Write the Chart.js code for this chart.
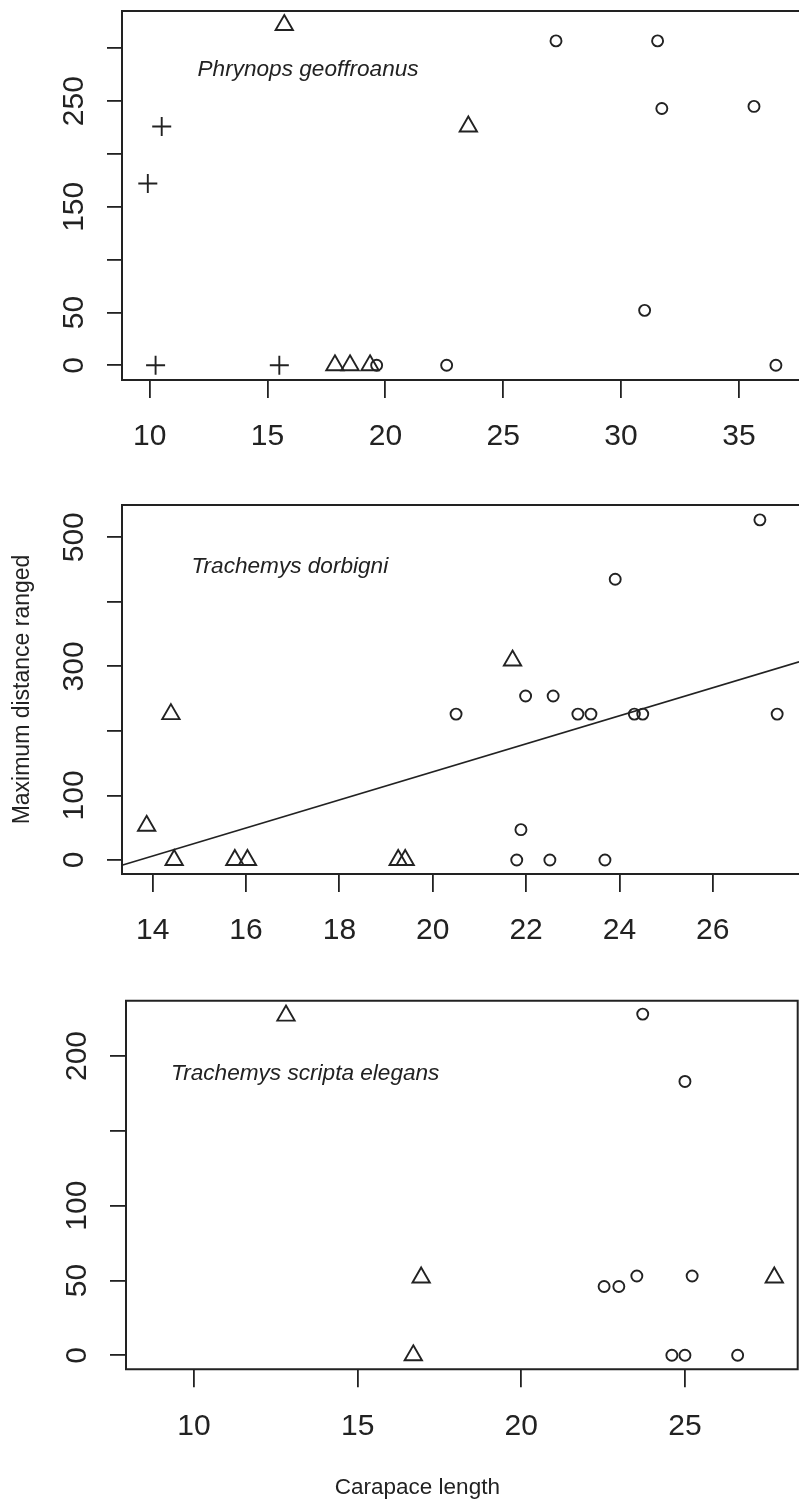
<!DOCTYPE html>
<html><head><meta charset="utf-8">
<script src="https://cdn.jsdelivr.net/npm/chart.js@4.4.1/dist/chart.umd.min.js"></script>
<style>
html,body{margin:0;padding:0;background:#fff;}
#wrap{position:relative;width:799px;height:1505px;overflow:hidden;background:#fff;}
canvas{position:absolute;left:0;}
</style></head><body>
<div id="wrap">
<canvas id="c1" width="799" height="480" style="top:0px"></canvas>
<canvas id="c2" width="799" height="500" style="top:480px"></canvas>
<canvas id="c3" width="799" height="525" style="top:980px"></canvas>
</div>
<script>
// ================= DATA =================
const yTitle = 'Maximum distance ranged';
const xTitle = 'Carapace length';

// ---- Panel 1: Phrynops geoffroanus ----
const p1Species = 'Phrynops geoffroanus';
const p1XTicks = [10, 15, 20, 25, 30, 35];
const p1XTickLabels = ['10', '15', '20', '25', '30', '35'];
const p1YTicks = [0, 50, 100, 150, 200, 250, 300];
const p1YTickLabels = ['0', '50', '', '150', '', '250', ''];
const p1PlusX = [9.92, 10.51, 10.25, 15.50];
const p1PlusY = [172, 226, 0, 0];
const p1TriX = [15.71, 17.86, 18.50, 19.35, 23.52];
const p1TriY = [322, 0, 0, 0, 226];
const p1CircX = [19.63, 22.60, 27.24, 31.55, 31.73, 35.64, 31.00, 36.57];
const p1CircY = [0, 0, 307, 307, 243, 245, 52, 0];

// ---- Panel 2: Trachemys dorbigni ----
const p2Species = 'Trachemys dorbigni';
const p2XTicks = [14, 16, 18, 20, 22, 24, 26];
const p2XTickLabels = ['14', '16', '18', '20', '22', '24', '26'];
const p2YTicks = [0, 100, 200, 300, 400, 500];
const p2YTickLabels = ['0', '100', '', '300', '', '500'];
const p2TriX = [13.87, 14.39, 14.46, 15.76, 16.03, 19.26, 19.41, 21.71];
const p2TriY = [53, 226, 0, 0, 0, 0, 0, 309];
const p2CircX = [20.50, 21.99, 22.58, 23.11, 23.39, 24.32, 24.50, 27.38, 23.91, 27.01, 21.89, 21.80, 22.51, 23.69];
const p2CircY = [226, 254, 254, 226, 226, 226, 226, 226, 435, 527, 47, 0, 0, 0];
const p2FitX = [13.34, 27.85];
const p2FitY = [-8, 307];

// ---- Panel 3: Trachemys scripta elegans ----
const p3Species = 'Trachemys scripta elegans';
const p3XTicks = [10, 15, 20, 25];
const p3XTickLabels = ['10', '15', '20', '25'];
const p3YTicks = [0, 50, 100, 150, 200];
const p3YTickLabels = ['0', '50', '100', '', '200'];
const p3TriX = [12.81, 16.94, 16.70, 27.73];
const p3TriY = [227, 52, 0, 52];
const p3CircX = [23.71, 25.00, 22.53, 22.98, 23.53, 25.22, 24.60, 25.00, 26.61];
const p3CircY = [228, 183, 46, 46, 53, 53, 0, 0, 0];

// ================= STYLE / LAYOUT =================
const FAMILY = "'Liberation Sans', Arial, Helvetica, sans-serif";
const INK = '#222222';
const TICK_SIZE = 30;

const toPts = (xs, ys) => xs.map((x, i) => ({x: x, y: ys[i]}));

const framePlugin = {
  id: 'frame',
  beforeDatasetsDraw(chart, args, opts) {
    const a = chart.chartArea, ctx = chart.ctx;
    ctx.save();
    ctx.strokeStyle = opts.color;
    ctx.lineWidth = opts.width;
    ctx.lineCap = 'square';
    ctx.beginPath();
    if (opts.right) {
      ctx.rect(a.left, a.top, a.right - a.left, a.bottom - a.top);
    } else {
      ctx.moveTo(a.right + 5, a.top);
      ctx.lineTo(a.left, a.top);
      ctx.lineTo(a.left, a.bottom);
      ctx.lineTo(a.right + 5, a.bottom);
    }
    ctx.stroke();
    ctx.restore();
  }
};

const speciesPlugin = {
  id: 'species',
  afterDatasetsDraw(chart, args, opts) {
    const ctx = chart.ctx;
    const px = chart.scales.x.getPixelForValue(opts.x);
    const py = chart.scales.y.getPixelForValue(opts.y);
    ctx.save();
    ctx.font = 'italic ' + opts.size + 'px ' + FAMILY;
    ctx.fillStyle = INK;
    ctx.textAlign = 'left';
    ctx.textBaseline = 'middle';
    ctx.fillText(opts.text, px, py);
    ctx.restore();
  }
};

const measureCtx = document.createElement('canvas').getContext('2d');
function textW(s, size) {
  measureCtx.font = size + 'px ' + FAMILY;
  return measureCtx.measureText(s).width;
}

function seriesSet(defs) {
  return defs.map(d => ({
    label: d.label,
    data: d.data,
    type: d.line ? 'line' : 'scatter',
    showLine: !!d.line,
    borderColor: INK,
    borderWidth: d.line ? 1.6 : 0,
    pointStyle: d.style || 'circle',
    pointRadius: d.line ? 0 : d.r,
    pointHoverRadius: d.line ? 0 : d.r,
    pointBorderColor: INK,
    pointBorderWidth: 1.9,
    pointBackgroundColor: 'rgba(0,0,0,0)',
    fill: false,
    clip: false,
    order: d.line ? 2 : 1
  }));
}

function makePanel(id, cfg) {
  const widest = Math.max.apply(null, cfg.yLabels.map(l => textW(l, TICK_SIZE)));
  const yPad = cfg.axisLeft - cfg.yTickLen - cfg.yLabelCenter - widest / 2;
  const tickFont = {family: FAMILY, size: TICK_SIZE};
  return new Chart(document.getElementById(id), {
    type: 'scatter',
    data: {datasets: seriesSet(cfg.series)},
    options: {
      responsive: false,
      animation: false,
      events: [],
      layout: {autoPadding: false, padding: {top: cfg.top, left: cfg.padLeft || 0, right: cfg.padRight || 0, bottom: 0}},
      scales: {
        x: {
          type: 'linear', position: 'bottom', min: cfg.xMin, max: cfg.xMax,
          afterBuildTicks: s => { s.ticks = cfg.xTicks.map(v => ({value: v})); },
          afterFit: s => { s.height = cfg.xAxisH; s.paddingLeft = 0; s.paddingRight = 0; },
          ticks: {
            autoSkip: false, maxRotation: 0, minRotation: 0, padding: 21,
            color: INK, font: tickFont,
            callback: v => cfg.xLabels[cfg.xTicks.indexOf(v)]
          },
          grid: {drawOnChartArea: false, drawTicks: true, tickLength: 18,
                 color: INK, tickColor: INK, lineWidth: 1.8, tickWidth: 1.8},
          border: {display: false}
        },
        y: {
          type: 'linear', position: 'left', min: cfg.yMin, max: cfg.yMax,
          afterBuildTicks: s => { s.ticks = cfg.yTicks.map(v => ({value: v})); },
          afterFit: s => { s.width = cfg.axisW; s.paddingTop = 0; s.paddingBottom = 0; },
          ticks: {
            autoSkip: false, minRotation: 90, maxRotation: 90, crossAlign: 'center',
            padding: yPad, color: INK, font: tickFont,
            callback: v => cfg.yLabels[cfg.yTicks.indexOf(v)]
          },
          grid: {drawOnChartArea: false, drawTicks: true, tickLength: cfg.yTickLen,
                 color: INK, tickColor: INK, lineWidth: 1.8, tickWidth: 1.8},
          border: {display: false},
          title: cfg.yTitle ? {display: true, text: cfg.yTitle, color: INK,
                  font: {family: FAMILY, size: 23}, padding: {top: 8.5, bottom: 0}} : {display: false}
        }
      },
      plugins: {
        legend: {display: false},
        tooltip: {enabled: false},
        title: cfg.xTitle ? {display: true, position: 'bottom', text: cfg.xTitle, color: INK,
                font: {family: FAMILY, size: 22.5, weight: 'normal'}, padding: {top: 0, bottom: 3.5}} : {display: false},
        frame: {color: INK, width: 2, right: !!cfg.frameRight},
        species: {text: cfg.species, x: cfg.spX, y: cfg.spY, size: 22.6}
      }
    },
    plugins: [framePlugin, speciesPlugin]
  });
}

// Panel 1
makePanel('c1', {
  top: 11, axisW: 122, axisLeft: 122, xAxisH: 100, yTickLen: 15, yLabelCenter: 75,
  xMin: 8.825, xMax: 37.55, yMin: -13.9, yMax: 335.3,
  xTicks: p1XTicks, xLabels: p1XTickLabels, yTicks: p1YTicks, yLabels: p1YTickLabels,
  species: p1Species, spX: 12.03, spY: 279.5,
  series: [
    {label: '+', data: toPts(p1PlusX, p1PlusY), style: 'cross', r: 9.5},
    {label: 'triangle', data: toPts(p1TriX, p1TriY), style: 'triangle', r: 10},
    {label: 'circle', data: toPts(p1CircX, p1CircY), style: 'circle', r: 5.5}
  ]
});

// Panel 2
makePanel('c2', {
  top: 25, axisW: 122, axisLeft: 122, xAxisH: 106, yTickLen: 15, yLabelCenter: 75,
  xMin: 13.342, xMax: 27.848, yMin: -21.7, yMax: 550,
  xTicks: p2XTicks, xLabels: p2XTickLabels, yTicks: p2YTicks, yLabels: p2YTickLabels,
  yTitle: yTitle,
  species: p2Species, spX: 14.83, spY: 453.7,
  series: [
    {label: 'fit', data: toPts(p2FitX, p2FitY), line: true},
    {label: 'triangle', data: toPts(p2TriX, p2TriY), style: 'triangle', r: 10},
    {label: 'circle', data: toPts(p2CircX, p2CircY), style: 'circle', r: 5.5}
  ]
});

// Panel 3
makePanel('c3', {
  top: 20.7, padLeft: 37, padRight: 1.3, axisW: 89, axisLeft: 126, xAxisH: 105.2, yTickLen: 16, yLabelCenter: 77.5,
  xMin: 7.922, xMax: 28.445, yMin: -9.36, yMax: 236.95,
  xTicks: p3XTicks, xLabels: p3XTickLabels, yTicks: p3YTicks, yLabels: p3YTickLabels,
  xTitle: xTitle, frameRight: true,
  species: p3Species, spX: 9.30, spY: 188.0,
  series: [
    {label: 'triangle', data: toPts(p3TriX, p3TriY), style: 'triangle', r: 10},
    {label: 'circle', data: toPts(p3CircX, p3CircY), style: 'circle', r: 5.5}
  ]
});
</script>
</body></html>
